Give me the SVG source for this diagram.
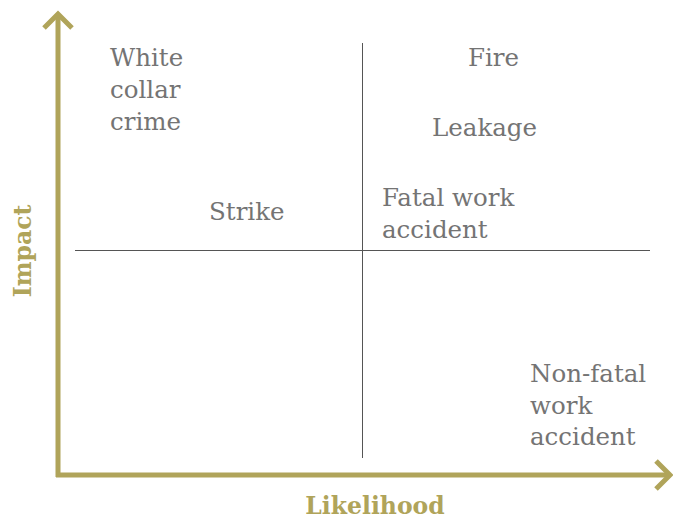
<svg xmlns="http://www.w3.org/2000/svg" width="673" height="519" viewBox="0 0 673 519">
<style>
.ax{stroke:#b0a45a;stroke-width:5;fill:none;stroke-linecap:butt}
.q{stroke:#555;stroke-width:1;fill:none}
.t{font-family:"DejaVu Serif","Liberation Serif",serif;font-size:24.5px;fill:#747474}
.lab{font-family:"DejaVu Serif","Liberation Serif",serif;font-size:23.5px;font-weight:bold;fill:#b0a45a}
</style>
<rect width="673" height="519" fill="#fff"/>
<g id="connectors">
<path class="ax" d="M58,477 L58,15"/>
<path class="ax" d="M44,28 L58,14 L72,28"/>
<path class="ax" d="M56,475 L669,475"/>
<path class="ax" d="M656,461 L670,475 L656,489"/>
<path class="q" d="M362.5,43 L362.5,458"/>
<path class="q" d="M75,250.5 L650,250.5"/>
</g>
<g id="axis-impact"><text class="lab" transform="translate(31,251) rotate(-90)" text-anchor="middle">Impact</text></g>
<g id="axis-likelihood"><text class="lab" x="375" y="514" text-anchor="middle">Likelihood</text></g>
<g id="white-collar-crime"><text class="t" x="110" y="66">White</text><text class="t" x="110" y="98">collar</text><text class="t" x="110" y="130">crime</text></g>
<g id="fire"><text class="t" x="468" y="66">Fire</text></g>
<g id="leakage"><text class="t" x="432" y="136">Leakage</text></g>
<g id="strike"><text class="t" x="209" y="220">Strike</text></g>
<g id="fatal-work-accident"><text class="t" x="382" y="206">Fatal work</text><text class="t" x="382" y="238">accident</text></g>
<g id="non-fatal-work-accident"><text class="t" x="530" y="382">Non-fatal</text><text class="t" x="530" y="414">work</text><text class="t" x="530" y="445">accident</text></g>
</svg>
